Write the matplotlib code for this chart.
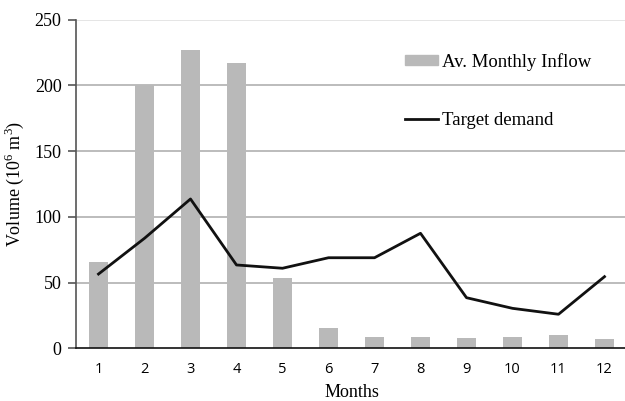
import matplotlib
matplotlib.use("Agg")
import matplotlib.pyplot as plt
from matplotlib.lines import Line2D
from matplotlib.patches import Patch

months = [1, 2, 3, 4, 5, 6, 7, 8, 9, 10, 11, 12]
inflow = [65.9, 200.3, 227.0, 216.8, 53.3, 15.2, 8.4, 8.9, 7.6, 8.9, 10.1, 7.1]
demand = [56.5, 83.7, 113.6, 63.4, 60.9, 68.9, 68.9, 87.5, 38.5, 30.4, 25.9, 54.5]
yticks = [0, 50, 100, 150, 200, 250]

serif = "Liberation Serif"
sans = "Open Sans"
plt.rcParams["mathtext.fontset"] = "custom"
plt.rcParams["mathtext.rm"] = serif

fig = plt.figure(figsize=(6.25, 4.01), dpi=100)
ax = fig.add_axes([75.5 / 625, 1 - 348.3 / 401, (627.5 - 75.5) / 625, (348.3 - 19.7) / 401])

ax.bar(months, inflow, width=0.4, color="#b9b9b9", zorder=2)
ax.plot(months, demand, color="#111111", lw=2, zorder=3)

ax.set_xlim(0.5, 12.5)
ax.set_ylim(0, 250)
ax.set_yticks(yticks)
ax.set_xticks(months)
ax.set_xticklabels([str(m) for m in months], fontfamily=sans, fontsize=10.5)
ax.set_yticklabels([str(v) for v in yticks], fontfamily=serif, fontsize=13)
for g in [50, 100, 150, 200]:
    ax.axhline(g, color="#b0b0b0", lw=1.2, zorder=1)
ax.axhline(250, color="#e0e0e0", lw=1.2, zorder=1)

for s in ["top", "right"]:
    ax.spines[s].set_visible(False)
ax.spines["left"].set_color("#555555")
ax.spines["left"].set_linewidth(1.2)
ax.spines["bottom"].set_color("#111111")
ax.spines["bottom"].set_linewidth(1.2)
ax.tick_params(axis="y", length=6, width=1.2, color="#555555", pad=4)
ax.tick_params(axis="x", length=0, pad=10)

ax.set_ylabel("Volume (10$^{\\mathrm{6}}$ m$^{\\mathrm{3}}$)", fontfamily=serif, fontsize=13, labelpad=6)
ax.set_xlabel("Months", fontfamily=serif, fontsize=13, labelpad=5)

h1 = Patch(color="#b9b9b9")
h2 = Line2D([0], [0], color="#111111", lw=2)
leg = ax.legend([h1, h2], ["Av. Monthly Inflow", "Target demand"],
                loc="upper left", bbox_to_anchor=(0.567, 0.951), frameon=False,
                prop={"family": serif, "size": 13.5}, labelspacing=2.2,
                handlelength=1.75, handletextpad=0.2, handleheight=0.4)

fig.savefig("out.png", dpi=100)
